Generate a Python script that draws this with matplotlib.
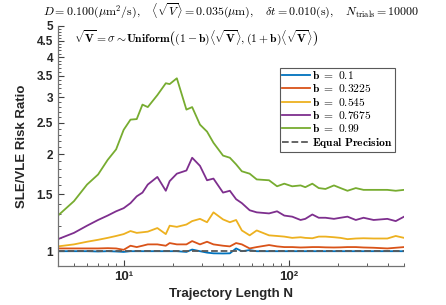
import matplotlib
matplotlib.use("Agg")
import matplotlib.pyplot as plt
from matplotlib.ticker import FixedLocator, NullFormatter, LogLocator

plt.rcParams['mathtext.fontset'] = 'cm'
plt.rcParams['font.family'] = ['Liberation Sans', 'DejaVu Sans']

# trajectory lengths
N = [4, 5, 6, 7, 8, 9, 10, 11, 12, 13, 14, 16, 18, 19, 21, 24, 26, 29, 32, 35, 40, 44,
     48, 52, 58, 64, 76, 85, 94, 105, 118, 126, 139, 152, 167, 188, 206, 227, 255, 284,
     327, 396, 445, 500]

b_labels = ['0.1', '0.3225', '0.545', '0.7675', '0.99']

r_01 = [1.0, 1.0, 1.0, 0.998, 1.0, 0.998, 0.995, 1.0, 1.0, 1.0, 1.0, 1.0, 1.0, 1.0, 1.0,
        0.995, 1.012, 1.0, 0.99, 0.985, 0.984, 0.985, 1.02, 1.0, 1.008, 1.0, 1.0, 1.0,
        1.0, 1.0, 1.0, 1.0, 1.0, 1.0, 1.0, 1.0, 1.0, 1.0, 1.0, 1.0, 1.0, 1.0, 1.0, 1.0]
r_03 = [1.02, 1.02, 1.02, 1.02, 1.022, 1.02, 1.01, 1.04, 1.03, 1.04, 1.05, 1.05, 1.04,
        1.06, 1.05, 1.05, 1.075, 1.05, 1.07, 1.05, 1.04, 1.035, 1.06, 1.05, 1.02, 1.03,
        1.045, 1.035, 1.03, 1.03, 1.027, 1.028, 1.03, 1.03, 1.028, 1.027, 1.028, 1.03,
        1.03, 1.027, 1.025, 1.02, 1.025, 1.03]
r_05 = [1.035, 1.05, 1.07, 1.085, 1.10, 1.115, 1.13, 1.155, 1.14, 1.145, 1.15, 1.18, 1.13,
        1.20, 1.19, 1.21, 1.24, 1.26, 1.23, 1.32, 1.255, 1.23, 1.25, 1.16, 1.12, 1.16,
        1.12, 1.115, 1.11, 1.10, 1.105, 1.10, 1.097, 1.11, 1.11, 1.105, 1.10, 1.09,
        1.095, 1.097, 1.095, 1.095, 1.115, 1.10]
r_07 = [1.09, 1.14, 1.20, 1.25, 1.29, 1.33, 1.36, 1.41, 1.48, 1.52, 1.61, 1.70, 1.54,
        1.65, 1.74, 1.78, 1.95, 1.84, 1.66, 1.68, 1.52, 1.54, 1.45, 1.41, 1.34, 1.32,
        1.31, 1.33, 1.29, 1.28, 1.25, 1.26, 1.30, 1.27, 1.27, 1.26, 1.27, 1.28, 1.25,
        1.27, 1.25, 1.26, 1.24, 1.28]
r_09 = [1.29, 1.43, 1.61, 1.73, 1.92, 2.07, 2.38, 2.56, 2.57, 2.85, 2.80, 3.05, 3.32,
        3.30, 3.44, 2.75, 2.80, 2.47, 2.35, 2.17, 1.98, 1.95, 1.86, 1.77, 1.74, 1.67,
        1.66, 1.59, 1.62, 1.59, 1.60, 1.58, 1.62, 1.57, 1.56, 1.60, 1.57, 1.54, 1.57,
        1.55, 1.55, 1.55, 1.54, 1.55]
series = [r_01, r_03, r_05, r_07, r_09]

colors = ['#0072BD', '#D95319', '#EDB120', '#7E2F8E', '#77AC30']

fig = plt.figure(figsize=(4.46, 3.05), dpi=100)
ax = fig.add_axes([0.130, 0.128, 0.776, 0.787])

for vals, lab, c in zip(series, b_labels, colors):
    ax.plot(N, vals, color=c, lw=1.3, label=r'$\mathbf{b\ =\ ' + lab + '}$')
ax.plot([N[0], N[-1]], [1, 1], '--', color='0.35', lw=1.3, label=r'$\mathbf{Equal\ Precision}$')

ax.set_xscale('log')
ax.set_yscale('log')
ax.set_xlim(4, 500)
ax.set_ylim(0.9, 5)

yt = [1, 1.5, 2, 2.5, 3, 3.5, 4, 4.5, 5]
ax.yaxis.set_major_locator(FixedLocator(yt))
ax.set_yticklabels(['1', '1.5', '2', '2.5', '3', '3.5', '4', '4.5', '5'])
ax.yaxis.set_minor_locator(FixedLocator([0.9 + 0.1 * i for i in range(42)]))
ax.yaxis.set_minor_formatter(NullFormatter())
ax.xaxis.set_major_locator(FixedLocator([10, 100]))
ax.set_xticklabels(['10\u00b9', '10\u00b2'])
ax.xaxis.set_minor_locator(LogLocator(base=10, subs=range(2, 10)))
ax.xaxis.set_minor_formatter(NullFormatter())

for s in ['top', 'right']:
    ax.spines[s].set_visible(False)
for s in ['left', 'bottom']:
    ax.spines[s].set_color('0.45')
    ax.spines[s].set_linewidth(0.9)
ax.tick_params(which='both', direction='in', colors='0.25', labelcolor='0.15')
ax.tick_params(which='major', length=4, labelsize=8.5)
ax.tick_params(which='minor', length=2)
for t in ax.get_yticklabels() + ax.get_xticklabels():
    t.set_fontweight('bold')
plt.setp(ax.get_xticklabels(), fontsize=9.5)

ax.set_xlabel('Trajectory Length N', fontsize=9.5, fontweight='bold', color='0.15')
ax.set_ylabel('SLE/VLE Risk Ratio', fontsize=9.5, fontweight='bold', color='0.15', labelpad=6)

ax.set_title(r'$D = 0.100(\mu\mathrm{m}^2/\mathrm{s}),\quad \langle\sqrt{V}\rangle = 0.035(\mu\mathrm{m}),'
             r'\quad \delta t = 0.010(\mathrm{s}),\quad N_{\mathrm{trials}} = 10000$',
             fontsize=8.6, pad=7)
ax.text(0.046, 0.945,
        r'$\sqrt{\mathbf{V}} = \sigma \sim\!\mathbf{Uniform}\left((\mathbf{1}-\mathbf{b})\langle\sqrt{\mathbf{V}}\rangle,'
        r'(\mathbf{1}+\mathbf{b})\langle\sqrt{\mathbf{V}}\rangle\right)$',
        transform=ax.transAxes, fontsize=8.4, va='center', ha='left')

leg = ax.legend(loc='upper right', bbox_to_anchor=(0.974, 0.825), fontsize=8.3,
                fancybox=False, framealpha=1, edgecolor='0.35', handlelength=2.4,
                handletextpad=0.2, borderpad=0.2, labelspacing=0.1, borderaxespad=0)
leg.get_frame().set_linewidth(0.8)

fig.savefig('out.png', dpi=100)
